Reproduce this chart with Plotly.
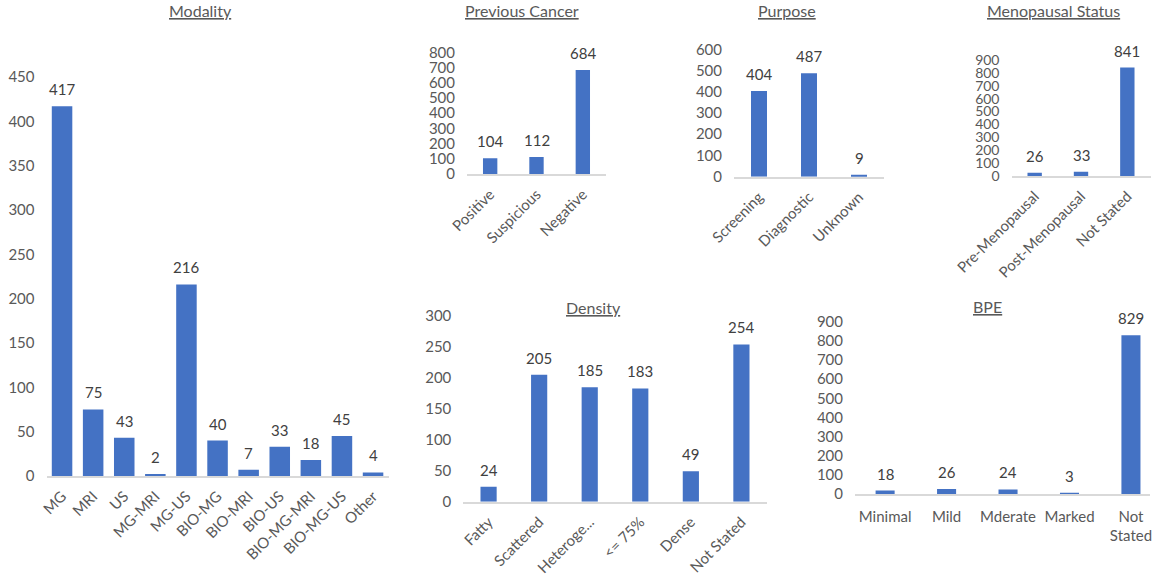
import plotly.graph_objects as go

W, H = 1155, 578

modality_cats = ["MG", "MRI", "US", "MG-MRI", "MG-US", "BIO-MG", "BIO-MRI",
                 "BIO-US", "BIO-MG-MRI", "BIO-MG-US", "Other"]
modality_vals = [417, 75, 43, 2, 216, 40, 7, 33, 18, 45, 4]

prev_cats = ["Positive", "Suspicious", "Negative"]
prev_vals = [104, 112, 684]

purpose_cats = ["Screening", "Diagnostic", "Unknown"]
purpose_vals = [404, 487, 9]

meno_cats = ["Pre-Menopausal", "Post-Menopausal", "Not Stated"]
meno_vals = [26, 33, 841]

density_cats = ["Fatty", "Scattered", "Heteroge...", "<= 75%", "Dense", "Not Stated"]
density_vals = [24, 205, 185, 183, 49, 254]

bpe_cats = ["Minimal", "Mild", "Mderate", "Marked", "Not Stated"]
bpe_labels = ["Minimal", "Mild", "Mderate", "Marked", "Not<br>Stated"]
bpe_vals = [18, 26, 24, 3, 829]

FONT = "Lato, Calibri, Arial, sans-serif"
BAR = "#4472C4"
TICK = "#595959"
LABEL = "#404040"
FS = 15

# (title, cats, vals, ticktext, x px domain, y px (bottom, top), ymax, dtick, width, angle, title xy, xrange, ytick size)
panels = [
    ("Modality", modality_cats, modality_vals, None, (46.5, 388.6), (476, 77), 450, 50, 0.66, -45, (200, 10), None, FS),
    ("Previous Cancer", prev_cats, prev_vals, None, (467, 606), (174, 52.3), 800, 100, 0.31, -45, (521.7, 10), None, FS),
    ("Purpose", purpose_cats, purpose_vals, None, (734, 884), (176.7, 49.3), 600, 100, 0.32, -45, (787, 10), None, FS),
    ("Menopausal Status", meno_cats, meno_vals, None, (1011.5, 1150.5), (176, 60), 900, 100, 0.31, -45, (1053.7, 11), None, 14),
    ("Density", density_cats, density_vals, None, (463.3, 766.7), (501.7, 316), 300, 50, 0.32, -45, (594, 308), None, FS),
    ("BPE", bpe_cats, bpe_vals, bpe_labels, (855, 1150), (494, 321.7), 900, 100, 0.31, 0, (987, 306), [-0.49, 4.31], FS),
]

fig = go.Figure()
layout = dict(
    width=W, height=H, margin=dict(l=0, r=0, t=0, b=0, autoexpand=False),
    paper_bgcolor="white", plot_bgcolor="white", showlegend=False,
    font=dict(family=FONT, size=FS, color=TICK),
)
annotations = []

for i, (title, cats, vals, ttext, xd, yd, ymax, dt, bw, ang, txy, xr, yfs) in enumerate(panels):
    n = i + 1
    xa = "x" if n == 1 else f"x{n}"
    ya = "y" if n == 1 else f"y{n}"
    fig.add_trace(go.Bar(x=cats, y=vals, xaxis=xa, yaxis=ya, marker_color=BAR,
                         marker_line_width=0, width=[bw] * len(cats), hoverinfo="x+y"))
    xkey = "xaxis" if n == 1 else f"xaxis{n}"
    ykey = "yaxis" if n == 1 else f"yaxis{n}"
    xaxis = dict(
        domain=[xd[0] / W, xd[1] / W], anchor=ya, type="category", automargin=False,
        showline=True, linecolor="#D9D9D9", linewidth=1.5, showgrid=False,
        ticks="", tickangle=ang, tickfont=dict(family=FONT, size=FS, color=TICK),
        zeroline=False, fixedrange=True,
        ticklabelstandoff=8 if ang == 0 else 4,
    )
    if ttext is not None:
        xaxis["tickmode"] = "array"
        xaxis["tickvals"] = cats
        xaxis["ticktext"] = ttext
    xaxis["range"] = xr if xr is not None else [-0.5, len(cats) - 0.5]
    layout[xkey] = xaxis
    layout[ykey] = dict(
        domain=[1 - yd[0] / H, 1 - yd[1] / H], anchor=xa, range=[0, ymax], dtick=dt,
        showgrid=False, showline=False, zeroline=False, ticks="", automargin=False,
        tickfont=dict(family=FONT, size=yfs, color=TICK), ticklabelstandoff=11,
        fixedrange=True,
    )
    for c, v in zip(cats, vals):
        annotations.append(dict(
            x=c, y=v, xref=xa, yref=ya, text=str(v), showarrow=False,
            yanchor="bottom", yshift=6, font=dict(family=FONT, size=FS, color=LABEL),
        ))
    annotations.append(dict(
        x=txy[0] / W, y=1 - txy[1] / H, xref="paper", yref="paper",
        text=f"<u>{title}</u>", showarrow=False, xanchor="center", yanchor="middle",
        font=dict(family=FONT, size=16, color=TICK),
    ))

layout["annotations"] = annotations
fig.update_layout(**layout)
fig.write_html(
    "out.html",
    config={"displayModeBar": False},
    post_script="document.body.style.margin='0';document.body.style.overflow='hidden';",
)
